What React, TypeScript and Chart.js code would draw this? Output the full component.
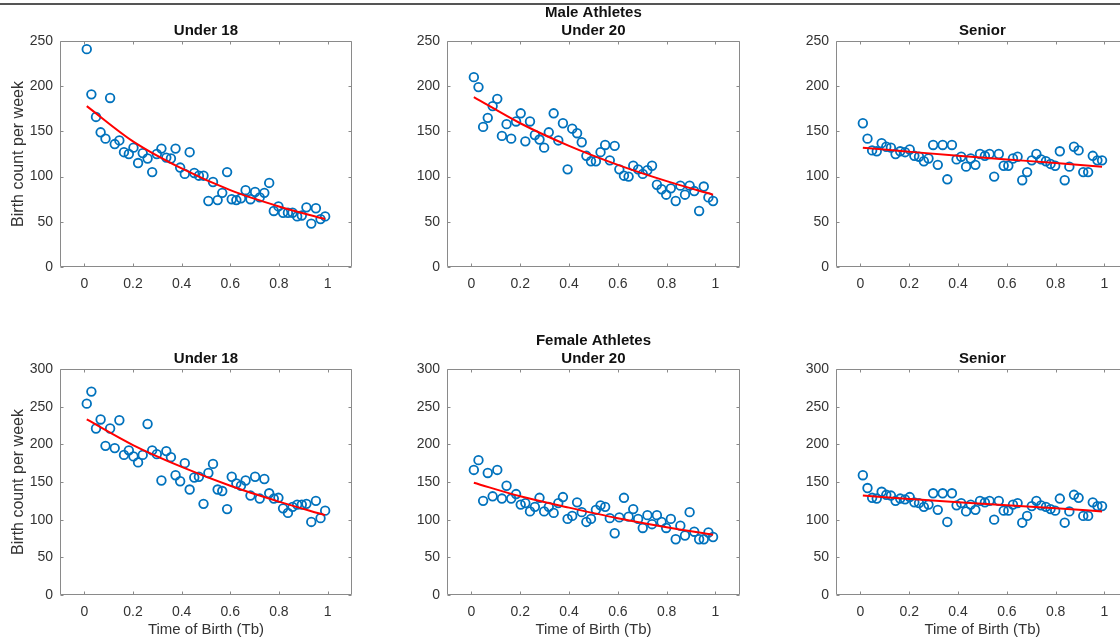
import React, { useEffect, useRef } from 'react';
import { Chart, registerables } from 'chart.js';

Chart.register(...registerables);

const FONT = "'Liberation Sans', Arial, Helvetica, sans-serif";
const MARKER = '#0072BD';
const FIT_COLOR = '#ff0000';
const AXIS = '#8a8a8a';
const LABEL = '#333333';

// week centres (x of each weekly bin, Time of Birth)
const weekPositions = [
  0.010, 0.029, 0.048, 0.067, 0.087, 0.106, 0.125, 0.144, 0.163, 0.183, 0.202, 0.221, 0.240,
  0.260, 0.279, 0.298, 0.317, 0.337, 0.356, 0.375, 0.394, 0.413, 0.433, 0.452, 0.471, 0.490,
  0.510, 0.529, 0.548, 0.567, 0.587, 0.606, 0.625, 0.644, 0.663, 0.683, 0.702, 0.721, 0.740,
  0.760, 0.779, 0.798, 0.817, 0.837, 0.856, 0.875, 0.894, 0.913, 0.933, 0.952, 0.971, 0.990,
];

const maleU18 = [
  241, 191, 166, 149, 142, 187, 136, 140, 127, 125, 132, 115, 126,
  120, 105, 125, 131, 121, 120, 131, 110, 103, 127, 104, 101, 101,
  73, 94, 74, 82, 105, 75, 74, 76, 85, 75, 83, 77, 82,
  93, 62, 67, 60, 60, 60, 56, 57, 66, 48, 65, 53, 56,
];
const maleU20 = [
  210, 199, 155, 165, 178, 186, 145, 158, 142, 161, 170, 139, 161,
  146, 141, 132, 149, 170, 140, 159, 108, 153, 148, 138, 123, 117,
  117, 127, 135, 118, 134, 108, 101, 100, 112, 108, 103, 107, 112,
  91, 86, 80, 87, 73, 90, 80, 90, 84, 62, 89, 77, 73,
];
const maleSenior = [
  159, 142, 129, 128, 137, 133, 132, 125, 128, 127, 130, 123, 122,
  117, 120, 135, 113, 135, 97, 135, 119, 122, 111, 120, 113, 125,
  123, 125, 100, 125, 112, 112, 120, 122, 96, 105, 118, 125, 119,
  117, 114, 112, 128, 96, 111, 133, 129, 105, 105, 123, 118, 118,
];
const femaleU18 = [
  254, 270, 221, 233, 198, 221, 195, 232, 186, 192, 184, 176, 186,
  227, 192, 187, 152, 191, 183, 159, 151, 175, 140, 156, 157, 121,
  162, 174, 140, 138, 114, 157, 148, 145, 152, 132, 157, 128, 154,
  135, 128, 129, 115, 109, 117, 120, 120, 121, 97, 125, 102, 112,
];
const femaleU20 = [
  166, 179, 125, 162, 131, 166, 128, 145, 128, 134, 120, 122, 111,
  117, 129, 111, 117, 109, 122, 130, 101, 105, 123, 110, 97, 101,
  113, 119, 117, 102, 82, 103, 129, 104, 114, 101, 89, 106, 94,
  106, 97, 89, 101, 74, 92, 79, 110, 84, 74, 74, 83, 77,
];
const femaleSenior = [
  159, 142, 129, 128, 137, 133, 132, 125, 128, 127, 130, 123, 122,
  117, 120, 135, 113, 135, 97, 135, 119, 122, 111, 120, 113, 125,
  123, 125, 100, 125, 112, 112, 120, 122, 96, 105, 118, 125, 119,
  117, 114, 112, 128, 96, 111, 133, 129, 105, 105, 123, 118, 118,
];

// fitted curves, read at a few x positions
const fitX = [0.01, 0.2, 0.4, 0.6, 0.8, 0.99];
const maleU18Fit = [178, 139, 109, 85, 67, 53];
const maleU20Fit = [188, 159, 134, 113, 95, 80];
const maleSeniorFit = [132, 127.5, 123, 119, 115, 111];
const femaleU18Fit = [233, 199, 170, 145, 124, 106];
const femaleU20Fit = [149, 131, 116, 102, 90, 80];
const femaleSeniorFit = [132, 127.5, 123, 119, 115, 111];

const xTickValues = [0, 0.2, 0.4, 0.6, 0.8, 1];
const xTickLabels = ['0', '0.2', '0.4', '0.6', '0.8', '1'];
const maleYTicks = [0, 50, 100, 150, 200, 250];
const femaleYTicks = [0, 50, 100, 150, 200, 250, 300];

const xAxisTitle = 'Time of Birth (Tb)';
const yAxisTitle = 'Birth count per week';

const boxPlugin = {
  id: 'matlabBox',
  beforeDatasetsDraw(chart: any) {
    const { ctx, chartArea: a, scales } = chart;
    const xs = scales.x;
    const ys = scales.y;
    const L = Math.round(a.left) + 0.5;
    const R = Math.round(a.right) - 0.5;
    const T = Math.round(a.top) + 0.5;
    const B = Math.round(a.bottom) - 0.5;
    ctx.save();
    ctx.strokeStyle = AXIS;
    ctx.lineWidth = 1;
    ctx.beginPath();
    ctx.rect(L, T, R - L, B - T);
    const tl = 3;
    xs.ticks.forEach((t: any) => {
      const px = Math.round(xs.getPixelForValue(t.value)) + 0.5;
      ctx.moveTo(px, B);
      ctx.lineTo(px, B - tl);
      ctx.moveTo(px, T);
      ctx.lineTo(px, T + tl);
    });
    ys.ticks.forEach((t: any) => {
      const py = Math.round(ys.getPixelForValue(t.value)) + 0.5;
      ctx.moveTo(L, py);
      ctx.lineTo(L + tl, py);
      ctx.moveTo(R, py);
      ctx.lineTo(R - tl, py);
    });
    ctx.stroke();
    ctx.restore();
  },
};

type PanelProps = {
  left: number;
  top: number;
  width: number;
  height: number;
  yAxisWidth: number;
  xAxisHeight: number;
  titlePadTop: number;
  title: string | string[];
  values: number[];
  fit: number[];
  yTicks: number[];
  showYTitle: boolean;
  showXTitle: boolean;
};

function Panel(p: PanelProps) {
  const ref = useRef<HTMLCanvasElement>(null);
  useEffect(() => {
    const canvas = ref.current;
    if (!canvas) return;
    const chart = new Chart(canvas, {
      type: 'scatter',
      data: {
        datasets: [
          {
            type: 'line',
            data: fitX.map((x, i) => ({ x, y: p.fit[i] })),
            borderColor: FIT_COLOR,
            borderWidth: 2,
            pointRadius: 0,
            cubicInterpolationMode: 'monotone',
            fill: false,
          } as any,
          {
            type: 'scatter',
            data: weekPositions.map((x, i) => ({ x, y: p.values[i] })),
            borderColor: MARKER,
            backgroundColor: 'rgba(0,0,0,0)',
            pointRadius: 4.3,
            pointHoverRadius: 4.3,
            borderWidth: 1.8,
          } as any,
        ],
      },
      options: {
        responsive: false,
        animation: false,
        events: [],
        layout: { padding: { left: 0, right: 4, top: 0, bottom: 0 } },
        plugins: {
          legend: { display: false },
          tooltip: { enabled: false },
          title: {
            display: true,
            text: p.title,
            fullSize: false,
            color: '#111111',
            font: { family: FONT, size: 15, weight: 'bold', lineHeight: '18px' },
            padding: { top: p.titlePadTop, bottom: 1 },
          },
        },
        scales: {
          x: {
            type: 'linear',
            min: -0.1,
            max: 1.1,
            grid: { display: false, drawTicks: false },
            border: { display: false },
            afterBuildTicks: (s: any) => {
              s.ticks = xTickValues.map((v) => ({ value: v }));
            },
            afterFit: (s: any) => {
              s.height = p.xAxisHeight;
            },
            ticks: {
              autoSkip: false,
              maxRotation: 0,
              padding: 9,
              color: LABEL,
              font: { family: FONT, size: 14 },
              callback: (_v: any, i: number) => xTickLabels[i],
            },
            title: {
              display: p.showXTitle,
              text: xAxisTitle,
              color: LABEL,
              font: { family: FONT, size: 15, lineHeight: '16px' },
              padding: { top: 0, bottom: 0 },
            },
          },
          y: {
            type: 'linear',
            min: 0,
            max: p.yTicks[p.yTicks.length - 1],
            grid: { display: false, drawTicks: false },
            border: { display: false },
            afterBuildTicks: (s: any) => {
              s.ticks = p.yTicks.map((v) => ({ value: v }));
            },
            afterFit: (s: any) => {
              s.width = p.yAxisWidth;
            },
            ticks: {
              padding: 7,
              color: LABEL,
              font: { family: FONT, size: 14 },
              callback: (v: any) => String(v),
            },
            title: {
              display: p.showYTitle,
              text: yAxisTitle,
              color: LABEL,
              font: { family: FONT, size: 16 },
              padding: { top: 9, bottom: 0 },
            },
          },
        },
      } as any,
      plugins: [boxPlugin],
    });
    return () => chart.destroy();
  }, []);
  return (
    <canvas
      ref={ref}
      width={p.width}
      height={p.height}
      style={{ position: 'absolute', left: p.left, top: p.top, width: p.width, height: p.height }}
    />
  );
}

const cols = [
  { left: 0, width: 358, yAxisWidth: 60, showYTitle: true },
  { left: 402, width: 344, yAxisWidth: 45, showYTitle: false },
  { left: 791, width: 344, yAxisWidth: 45, showYTitle: false },
];
const rows = [
  { top: 0, height: 300, xAxisHeight: 33, singlePad: 22, doublePad: 4, showXTitle: false },
  { top: 320, height: 318, xAxisHeight: 43, singlePad: 30, doublePad: 12, showXTitle: true },
];

const panels = [
  { r: 0, c: 0, title: 'Under 18', values: maleU18, fit: maleU18Fit, yTicks: maleYTicks },
  { r: 0, c: 1, title: ['Male Athletes', 'Under 20'], values: maleU20, fit: maleU20Fit, yTicks: maleYTicks },
  { r: 0, c: 2, title: 'Senior', values: maleSenior, fit: maleSeniorFit, yTicks: maleYTicks },
  { r: 1, c: 0, title: 'Under 18', values: femaleU18, fit: femaleU18Fit, yTicks: femaleYTicks },
  { r: 1, c: 1, title: ['Female Athletes', 'Under 20'], values: femaleU20, fit: femaleU20Fit, yTicks: femaleYTicks },
  { r: 1, c: 2, title: 'Senior', values: femaleSenior, fit: femaleSeniorFit, yTicks: femaleYTicks },
];

export default function App() {
  return (
    <div
      style={{
        position: 'fixed',
        left: 0,
        top: 0,
        width: 1120,
        height: 638,
        overflow: 'hidden',
        background: '#ffffff',
      }}
    >
      <div style={{ position: 'absolute', left: 0, top: 3, width: 1120, height: 2, background: '#555555' }} />
      {panels.map((pn, k) => {
        const col = cols[pn.c];
        const row = rows[pn.r];
        const isDouble = Array.isArray(pn.title);
        return (
          <Panel
            key={k}
            left={col.left}
            top={row.top}
            width={col.width}
            height={row.height}
            yAxisWidth={col.yAxisWidth}
            xAxisHeight={row.xAxisHeight}
            titlePadTop={isDouble ? row.doublePad : row.singlePad}
            title={pn.title}
            values={pn.values}
            fit={pn.fit}
            yTicks={pn.yTicks}
            showYTitle={col.showYTitle}
            showXTitle={row.showXTitle}
          />
        );
      })}
    </div>
  );
}
